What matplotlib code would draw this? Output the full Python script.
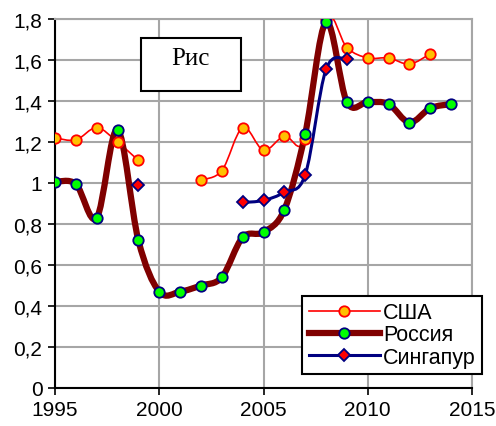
import numpy as np
import matplotlib.pyplot as plt
from matplotlib.path import Path
from matplotlib.patches import PathPatch, Rectangle
from matplotlib.lines import Line2D
from matplotlib.ticker import FuncFormatter

# values
usa_years = [1995, 1996, 1997, 1998, 1999, 2002, 2003, 2004, 2005, 2006, 2007, 2008, 2009, 2010, 2011, 2012, 2013]
usa_vals = [1.22, 1.21, 1.27, 1.20, 1.11, 1.015, 1.06, 1.27, 1.16, 1.23, 1.215, 1.80, 1.66, 1.61, 1.61, 1.58, 1.63]

rus_years = list(range(1995, 2015))
rus_vals = [1.005, 0.995, 0.83, 1.26, 0.72, 0.47, 0.47, 0.50, 0.54, 0.735, 0.76, 0.87, 1.24, 1.785,
            1.395, 1.395, 1.385, 1.295, 1.365, 1.385]

sgp_years = [1999, 2004, 2005, 2006, 2007, 2008, 2009]
sgp_vals = [0.99, 0.905, 0.915, 0.955, 1.04, 1.555, 1.605]

plt.rcParams['font.family'] = ['Liberation Sans', 'DejaVu Sans']

fig = plt.figure(figsize=(4.96, 4.27), dpi=100)
ax = fig.add_axes([55/496, 38/427, 417/496, 369/427])


def smooth_path(xs, ys, breaks=()):
    # bezier path like excel's smoothed line, split where there is a gap
    segs = []
    cur = [(xs[0], ys[0])]
    for i in range(1, len(xs)):
        if xs[i] - xs[i-1] > 1 and xs[i-1] in breaks:
            segs.append(cur)
            cur = []
        cur.append((xs[i], ys[i]))
    segs.append(cur)
    verts, codes = [], []
    for s in segs:
        p = np.array(s, dtype=float)
        verts.append(p[0]); codes.append(Path.MOVETO)
        for i in range(len(p) - 1):
            p0 = p[i-1] if i > 0 else p[i]
            p3 = p[i+2] if i + 2 < len(p) else p[i+1]
            c1 = p[i] + (p[i+1] - p0) / 6
            c2 = p[i+1] - (p3 - p[i]) / 6
            verts += [c1, c2, p[i+1]]
            codes += [Path.CURVE4] * 3
    return Path(verts, codes)


def add_curve(xs, ys, color, lw, breaks=()):
    patch = PathPatch(smooth_path(xs, ys, breaks), facecolor='none', edgecolor=color,
                      lw=lw, capstyle='round', joinstyle='round', zorder=3)
    ax.add_patch(patch)


add_curve(usa_years, usa_vals, '#FF0000', 1.2, breaks=(1999,))
add_curve(rus_years, rus_vals, '#800000', 4.5)
add_curve(sgp_years, sgp_vals, '#000080', 2.2, breaks=(1999,))

ax.plot(usa_years, usa_vals, ls='none', marker='o', ms=7.5, mfc='#FFC000', mec='#FF0000', mew=1.3, zorder=4)
ax.plot(rus_years, rus_vals, ls='none', marker='o', ms=7.5, mfc='#00FF00', mec='#000080', mew=1.3, zorder=5)
ax.plot(sgp_years, sgp_vals, ls='none', marker='D', ms=6.5, mfc='#FF0000', mec='#000080', mew=1.3, zorder=6)

ax.set_xlim(1995, 2015)
ax.set_ylim(0, 1.8)
ax.set_xticks([1995, 2000, 2005, 2010, 2015])
ax.set_yticks(np.arange(0, 1.81, 0.2))
ax.yaxis.set_major_formatter(FuncFormatter(lambda v, p: ('%g' % round(v, 1)).replace('.', ',')))
ax.grid(True, color='#A6A6A6', lw=1.5)
ax.set_axisbelow(True)
for s in ['top', 'right']:
    ax.spines[s].set_color('#A6A6A6')
    ax.spines[s].set_linewidth(1.5)
for s in ['left', 'bottom']:
    ax.spines[s].set_color('black')
    ax.spines[s].set_linewidth(1.5)
ax.tick_params(labelsize=15, length=5, width=1.2, pad=4)

handles = [
    Line2D([], [], color='#FF0000', lw=1.2, marker='o', ms=7.5, mfc='#FFC000', mec='#FF0000', mew=1.3),
    Line2D([], [], color='#800000', lw=4.5, marker='o', ms=7.5, mfc='#00FF00', mec='#000080', mew=1.3),
    Line2D([], [], color='#000080', lw=2.2, marker='D', ms=6.5, mfc='#FF0000', mec='#000080', mew=1.3),
]
leg = fig.legend(handles, ['США', 'Россия', 'Сингапур'], loc='lower right',
                 bbox_to_anchor=(482/496, (427-375)/427), fontsize=15.5, frameon=True,
                 fancybox=False, edgecolor='black', framealpha=1, borderpad=0.3,
                 labelspacing=0.05, handlelength=3.3, handletextpad=0.15, borderaxespad=0)
leg.get_frame().set_linewidth(1.5)
leg.set_zorder(10)

fig.patches.append(Rectangle((141/496, (427-92)/427), 100/496, 53/427, transform=fig.transFigure,
                             facecolor='white', edgecolor='black', lw=1.5, zorder=8))
fig.text(190/496, (427-65)/427, 'Рис', family='Liberation Serif', fontsize=18,
         ha='center', va='baseline', zorder=9)

fig.savefig('out.png', dpi=100)
